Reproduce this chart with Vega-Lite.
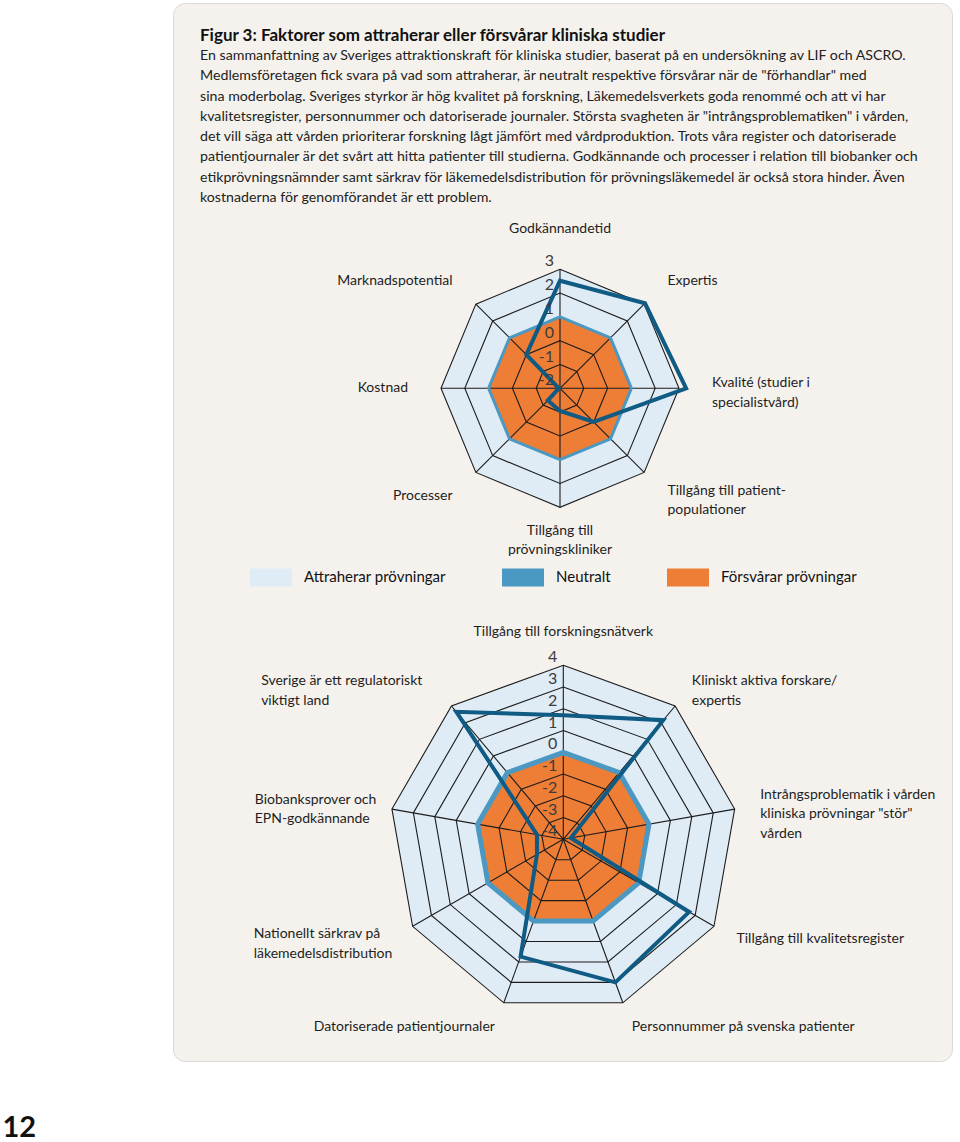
{
  "$schema": "https://vega.github.io/schema/vega-lite/v6.json",
  "width": 779,
  "height": 1058,
  "autosize": {"type": "none"},
  "padding": {"left": 173, "top": 3, "right": 8, "bottom": 81},
  "background": "#ffffff",
  "title": {
    "text": "Figur 3: Faktorer som attraherar eller försvårar kliniska studier",
    "subtitle": [
      "En sammanfattning av Sveriges attraktionskraft för kliniska studier, baserat på en undersökning av LIF och ASCRO.",
      "Medlemsföretagen fick svara på vad som attraherar, är neutralt respektive försvårar när de \"förhandlar\" med",
      "sina moderbolag. Sveriges styrkor är hög kvalitet på forskning, Läkemedelsverkets goda renommé och att vi har",
      "kvalitetsregister, personnummer och datoriserade journaler. Största svagheten är \"intrångsproblematiken\" i vården,",
      "det vill säga att vården prioriterar forskning lågt jämfört med vårdproduktion. Trots våra register och datoriserade",
      "patientjournaler är det svårt att hitta patienter till studierna. Godkännande och processer i relation till biobanker och",
      "etikprövningsnämnder samt särkrav för läkemedelsdistribution för prövningsläkemedel är också stora hinder. Även",
      "kostnaderna för genomförandet är ett problem."
    ],
    "anchor": "start",
    "frame": "group",
    "orient": "top",
    "offset": -203,
    "dx": 27,
    "font": "Lato",
    "fontSize": 17,
    "fontWeight": "bold",
    "color": "#111111",
    "subtitleFont": "Lato",
    "subtitleFontSize": 14.2,
    "subtitleColor": "#222222",
    "subtitleLineHeight": 20.25,
    "subtitlePadding": 4
  },
  "datasets": {
    "axes": [
      {"chart": 1, "k": 0, "label": "Godkännandetid", "v": 2.52},
      {"chart": 1, "k": 1, "label": "Expertis", "v": 3.05},
      {"chart": 1, "k": 2, "label": "Kvalité (studier i\nspecialistvård)", "v": 3.3},
      {"chart": 1, "k": 3, "label": "Tillgång till patient-\npopulationer", "v": 0},
      {"chart": 1, "k": 4, "label": "Tillgång till\nprövningskliniker", "v": -1.05},
      {"chart": 1, "k": 5, "label": "Processer", "v": -1.28},
      {"chart": 1, "k": 6, "label": "Kostnad", "v": -1.95},
      {"chart": 1, "k": 7, "label": "Marknadspotential", "v": 0},
      {"chart": 2, "k": 0, "label": "Tillgång till forskningsnätverk", "v": 1.7},
      {"chart": 2, "k": 1, "label": "Kliniskt aktiva forskare/\nexpertis", "v": 3.15},
      {"chart": 2, "k": 2, "label": "Intrångsproblematik i vården\nkliniska prövningar \"stör\"\nvården", "v": -3.65},
      {"chart": 2, "k": 3, "label": "Tillgång till kvalitetsregister", "v": 2.68},
      {"chart": 2, "k": 4, "label": "Personnummer på svenska patienter", "v": 3.0},
      {"chart": 2, "k": 5, "label": "Datoriserade patientjournaler", "v": 1.74},
      {"chart": 2, "k": 6, "label": "Nationellt särkrav på\nläkemedelsdistribution", "v": -2.6},
      {"chart": 2, "k": 7, "label": "Biobanksprover och\nEPN-godkännande", "v": -2.77},
      {"chart": 2, "k": 8, "label": "Sverige är ett regulatoriskt\nviktigt land", "v": 3.65}
    ],
    "zones": [
      {"chart": 1, "v": 3, "zone": "Attraherar prövningar", "ks": [0, 1, 2, 3, 4, 5, 6, 7]},
      {"chart": 1, "v": 1, "zone": "Försvårar prövningar", "ks": [0, 1, 2, 3, 4, 5, 6, 7]},
      {"chart": 2, "v": 4, "zone": "Attraherar prövningar", "ks": [0, 1, 2, 3, 4, 5, 6, 7, 8]},
      {"chart": 2, "v": 0, "zone": "Försvårar prövningar", "ks": [0, 1, 2, 3, 4, 5, 6, 7, 8]}
    ],
    "rings": [
      {"chart": 1, "v": -1, "ks": [0, 1, 2, 3, 4, 5, 6, 7]},
      {"chart": 1, "v": 0, "ks": [0, 1, 2, 3, 4, 5, 6, 7]},
      {"chart": 1, "v": 2, "ks": [0, 1, 2, 3, 4, 5, 6, 7]},
      {"chart": 1, "v": 3, "ks": [0, 1, 2, 3, 4, 5, 6, 7]},
      {"chart": 2, "v": -3, "ks": [0, 1, 2, 3, 4, 5, 6, 7, 8]},
      {"chart": 2, "v": -2, "ks": [0, 1, 2, 3, 4, 5, 6, 7, 8]},
      {"chart": 2, "v": -1, "ks": [0, 1, 2, 3, 4, 5, 6, 7, 8]},
      {"chart": 2, "v": 1, "ks": [0, 1, 2, 3, 4, 5, 6, 7, 8]},
      {"chart": 2, "v": 2, "ks": [0, 1, 2, 3, 4, 5, 6, 7, 8]},
      {"chart": 2, "v": 3, "ks": [0, 1, 2, 3, 4, 5, 6, 7, 8]},
      {"chart": 2, "v": 4, "ks": [0, 1, 2, 3, 4, 5, 6, 7, 8]}
    ],
    "levels": [
      {"chart": 1, "v": 3, "t": "3"},
      {"chart": 1, "v": 2, "t": "2"},
      {"chart": 1, "v": 1, "t": "1"},
      {"chart": 1, "v": 0, "t": "0"},
      {"chart": 1, "v": -1, "t": "-1"},
      {"chart": 1, "v": -2, "t": "-2"},
      {"chart": 2, "v": 4, "t": "4"},
      {"chart": 2, "v": 3, "t": "3"},
      {"chart": 2, "v": 2, "t": "2"},
      {"chart": 2, "v": 1, "t": "1"},
      {"chart": 2, "v": 0, "t": "0"},
      {"chart": 2, "v": -1, "t": "-1"},
      {"chart": 2, "v": -2, "t": "-2"},
      {"chart": 2, "v": -3, "t": "-3"},
      {"chart": 2, "v": -4, "t": "-4"}
    ]
  },
  "encoding": {
    "x": {
      "field": "px", "type": "quantitative",
      "scale": {"domain": [173, 952], "nice": false, "zero": false},
      "axis": {"title": "12", "domain": false, "ticks": false, "labels": false, "grid": false,
               "titleFont": "Lato", "titleFontSize": 29, "titleFontWeight": "bold", "titleColor": "#111111",
               "titleX": -171, "titleY": 75, "titleAlign": "left", "titleBaseline": "alphabetic", "titleAnchor": "start"}
    },
    "y": {
      "field": "py", "type": "quantitative",
      "scale": {"domain": [3, 1061], "reverse": true, "nice": false, "zero": false},
      "axis": null
    }
  },
  "layer": [
    {
      "data": {"name": "zones"},
      "transform": [
        {"filter": "datum.zone === 'Attraherar prövningar'"},
        {"flatten": ["ks"], "as": ["k"]},
        {"calculate": "2*PI*datum.k/(datum.chart === 1 ? 8 : 9)", "as": "ang"},
        {"calculate": "datum.chart === 1 ? 560 : 563.3", "as": "cx0"},
        {"calculate": "datum.chart === 1 ? 388.3 : 839.3", "as": "cy0"},
        {"calculate": "datum.chart === 1 ? 119*(datum.v+2)/5 : 174*(datum.v+4)/8", "as": "rp"},
        {"calculate": "datum.cx0 + datum.rp*sin(datum.ang)", "as": "px"},
        {"calculate": "datum.cy0 - datum.rp*cos(datum.ang)", "as": "py"}
      ],
      "mark": {"type": "line", "interpolate": "linear-closed", "stroke": "transparent", "strokeWidth": 0},
      "encoding": {
        "order": {"field": "k", "type": "quantitative"},
        "detail": {"field": "chart", "type": "nominal"},
        "fill": {
          "field": "zone", "type": "nominal",
          "scale": {"domain": ["Attraherar prövningar", "Neutralt", "Försvårar prövningar"], "range": ["#dfebf5", "#4b99c2", "#ee7d36"]},
          "legend": {"orient": "none", "legendX": 77, "legendY": 553, "direction": "horizontal", "title": null,
                     "symbolType": "M-1,-0.43H1V0.43H-1Z", "symbolSize": 1764, "symbolStrokeWidth": 0, "symbolOpacity": 1,
                     "labelFont": "Lato", "labelFontSize": 15, "labelColor": "#111111", "labelOffset": 12,
                     "columnPadding": 56, "padding": 0, "labelLimit": 300}
        }
      }
    },
    {
      "data": {"name": "zones"},
      "transform": [
        {"filter": "datum.zone === 'Försvårar prövningar'"},
        {"flatten": ["ks"], "as": ["k"]},
        {"calculate": "2*PI*datum.k/(datum.chart === 1 ? 8 : 9)", "as": "ang"},
        {"calculate": "datum.chart === 1 ? 560 : 563.3", "as": "cx0"},
        {"calculate": "datum.chart === 1 ? 388.3 : 839.3", "as": "cy0"},
        {"calculate": "datum.chart === 1 ? 119*(datum.v+2)/5 : 174*(datum.v+4)/8", "as": "rp"},
        {"calculate": "datum.cx0 + datum.rp*sin(datum.ang)", "as": "px"},
        {"calculate": "datum.cy0 - datum.rp*cos(datum.ang)", "as": "py"}
      ],
      "mark": {"type": "line", "interpolate": "linear-closed", "stroke": "transparent", "strokeWidth": 0, "fill": "#ee7d36"},
      "encoding": {
        "order": {"field": "k", "type": "quantitative"},
        "detail": {"field": "chart", "type": "nominal"}
      }
    },
    {
      "data": {"name": "rings"},
      "transform": [
        {"flatten": ["ks"], "as": ["k"]},
        {"calculate": "2*PI*datum.k/(datum.chart === 1 ? 8 : 9)", "as": "ang"},
        {"calculate": "datum.chart === 1 ? 560 : 563.3", "as": "cx0"},
        {"calculate": "datum.chart === 1 ? 388.3 : 839.3", "as": "cy0"},
        {"calculate": "datum.chart === 1 ? 119*(datum.v+2)/5 : 174*(datum.v+4)/8", "as": "rp"},
        {"calculate": "datum.cx0 + datum.rp*sin(datum.ang)", "as": "px"},
        {"calculate": "datum.cy0 - datum.rp*cos(datum.ang)", "as": "py"}
      ],
      "mark": {"type": "line", "interpolate": "linear-closed", "stroke": "#1c1c1c", "strokeWidth": 1.1},
      "encoding": {
        "order": {"field": "k", "type": "quantitative"},
        "detail": [{"field": "chart", "type": "nominal"}, {"field": "v", "type": "nominal"}]
      }
    },
    {
      "data": {"name": "axes"},
      "transform": [
        {"calculate": "2*PI*datum.k/(datum.chart === 1 ? 8 : 9)", "as": "ang"},
        {"calculate": "datum.chart === 1 ? 560 : 563.3", "as": "cx0"},
        {"calculate": "datum.chart === 1 ? 388.3 : 839.3", "as": "cy0"},
        {"calculate": "datum.chart === 1 ? 119 : 174", "as": "rp"},
        {"calculate": "datum.cx0 + datum.rp*sin(datum.ang)", "as": "px"},
        {"calculate": "datum.cy0 - datum.rp*cos(datum.ang)", "as": "py"}
      ],
      "mark": {"type": "rule", "stroke": "#1c1c1c", "strokeWidth": 1.1},
      "encoding": {
        "x2": {"field": "cx0"},
        "y2": {"field": "cy0"}
      }
    },
    {
      "data": {"name": "zones"},
      "transform": [
        {"filter": "datum.zone === 'Försvårar prövningar'"},
        {"flatten": ["ks"], "as": ["k"]},
        {"calculate": "2*PI*datum.k/(datum.chart === 1 ? 8 : 9)", "as": "ang"},
        {"calculate": "datum.chart === 1 ? 560 : 563.3", "as": "cx0"},
        {"calculate": "datum.chart === 1 ? 388.3 : 839.3", "as": "cy0"},
        {"calculate": "datum.chart === 1 ? 119*(datum.v+2)/5 : 174*(datum.v+4)/8", "as": "rp"},
        {"calculate": "datum.cx0 + datum.rp*sin(datum.ang)", "as": "px"},
        {"calculate": "datum.cy0 - datum.rp*cos(datum.ang)", "as": "py"}
      ],
      "mark": {"type": "line", "interpolate": "linear-closed", "stroke": "#4b99c2"},
      "encoding": {
        "order": {"field": "k", "type": "quantitative"},
        "detail": {"field": "chart", "type": "nominal"},
        "strokeWidth": {"condition": {"test": "datum.chart === 1", "value": 3}, "value": 5}
      }
    },
    {
      "data": {"name": "axes"},
      "transform": [
        {"calculate": "2*PI*datum.k/(datum.chart === 1 ? 8 : 9)", "as": "ang"},
        {"calculate": "datum.chart === 1 ? 560 : 563.3", "as": "cx0"},
        {"calculate": "datum.chart === 1 ? 388.3 : 839.3", "as": "cy0"},
        {"calculate": "datum.chart === 1 ? 119*(datum.v+2)/5 : 174*(datum.v+4)/8", "as": "rp"},
        {"calculate": "datum.cx0 + datum.rp*sin(datum.ang)", "as": "px"},
        {"calculate": "datum.cy0 - datum.rp*cos(datum.ang)", "as": "py"}
      ],
      "mark": {"type": "line", "interpolate": "linear-closed", "stroke": "#0f5b84", "strokeWidth": 4, "strokeJoin": "miter"},
      "encoding": {
        "order": {"field": "k", "type": "quantitative"},
        "detail": {"field": "chart", "type": "nominal"}
      }
    },
    {
      "data": {"name": "levels"},
      "transform": [
        {"calculate": "datum.chart === 1 ? 560 : 563.3", "as": "px"},
        {"calculate": "datum.chart === 1 ? 388.3 - 119*(datum.v+2)/5 : 839.3 - 174*(datum.v+4)/8", "as": "py"}
      ],
      "mark": {"type": "text", "align": "right", "baseline": "middle", "dx": -6, "dy": -8, "font": "Lato", "fontSize": 16, "color": "#3c3c3c"},
      "encoding": {"text": {"field": "t", "type": "nominal"}}
    },
    {
      "data": {"name": "axes"},
      "transform": [
        {"calculate": "2*PI*datum.k/(datum.chart === 1 ? 8 : 9)", "as": "ang"},
        {"calculate": "sin(datum.ang)", "as": "sx"},
        {"filter": "datum.sx > 0.05"},
        {"calculate": "length(split(datum.label, '\\n'))", "as": "nl"},
        {"calculate": "datum.chart === 1 ? 152 : 200", "as": "rp"},
        {"calculate": "(datum.chart === 1 ? 560 : 563.3) + datum.rp*sin(datum.ang)", "as": "px"},
        {"calculate": "(datum.chart === 1 ? 388.3 : 839.3) - datum.rp*cos(datum.ang) - (datum.nl - 1)*19.5/4", "as": "py"}
      ],
      "mark": {"type": "text", "align": "left", "baseline": "middle", "font": "Lato", "fontSize": 14, "color": "#1e1e1e", "lineBreak": "\n", "lineHeight": 19.5},
      "encoding": {"text": {"field": "label", "type": "nominal"}}
    },
    {
      "data": {"name": "axes"},
      "transform": [
        {"calculate": "2*PI*datum.k/(datum.chart === 1 ? 8 : 9)", "as": "ang"},
        {"calculate": "sin(datum.ang)", "as": "sx"},
        {"filter": "abs(datum.sx) <= 0.05 && cos(datum.ang) > 0"},
        {"calculate": "datum.chart === 1 ? 152 : 200", "as": "rp"},
        {"calculate": "(datum.chart === 1 ? 560 : 563.3) + datum.rp*sin(datum.ang)", "as": "px"},
        {"calculate": "(datum.chart === 1 ? 388.3 : 839.3) - datum.rp*cos(datum.ang)", "as": "py"}
      ],
      "mark": {"type": "text", "align": "center", "baseline": "bottom", "font": "Lato", "fontSize": 14, "color": "#1e1e1e", "lineBreak": "\n", "lineHeight": 19.5},
      "encoding": {"text": {"field": "label", "type": "nominal"}}
    },
    {
      "data": {"name": "axes"},
      "transform": [
        {"calculate": "2*PI*datum.k/(datum.chart === 1 ? 8 : 9)", "as": "ang"},
        {"calculate": "sin(datum.ang)", "as": "sx"},
        {"filter": "abs(datum.sx) <= 0.05 && cos(datum.ang) < 0"},
        {"calculate": "length(split(datum.label, '\\n'))", "as": "nl"},
        {"calculate": "datum.chart === 1 ? 152 : 200", "as": "rp"},
        {"calculate": "(datum.chart === 1 ? 560 : 563.3) + datum.rp*sin(datum.ang)", "as": "px"},
        {"calculate": "(datum.chart === 1 ? 388.3 : 839.3) - datum.rp*cos(datum.ang) - (datum.nl - 1)*19.5/2", "as": "py"}
      ],
      "mark": {"type": "text", "align": "center", "baseline": "middle", "font": "Lato", "fontSize": 14, "color": "#1e1e1e", "lineBreak": "\n", "lineHeight": 19.5},
      "encoding": {"text": {"field": "label", "type": "nominal"}}
    },
    {
      "data": {"name": "axes"},
      "transform": [
        {"calculate": "2*PI*datum.k/(datum.chart === 1 ? 8 : 9)", "as": "ang"},
        {"calculate": "sin(datum.ang)", "as": "sx"},
        {"calculate": "length(split(datum.label, '\\n'))", "as": "nl"},
        {"filter": "datum.sx < -0.05 && datum.nl === 1"},
        {"calculate": "datum.chart === 1 ? 152 : 200", "as": "rp"},
        {"calculate": "(datum.chart === 1 ? 560 : 563.3) + datum.rp*sin(datum.ang)", "as": "px"},
        {"calculate": "(datum.chart === 1 ? 388.3 : 839.3) - datum.rp*cos(datum.ang)", "as": "py"}
      ],
      "mark": {"type": "text", "align": "right", "baseline": "middle", "font": "Lato", "fontSize": 14, "color": "#1e1e1e", "lineBreak": "\n", "lineHeight": 19.5},
      "encoding": {"text": {"field": "label", "type": "nominal"}}
    },
    {
      "data": {"name": "axes"},
      "transform": [
        {"calculate": "2*PI*datum.k/(datum.chart === 1 ? 8 : 9)", "as": "ang"},
        {"calculate": "sin(datum.ang)", "as": "sx"},
        {"calculate": "length(split(datum.label, '\\n'))", "as": "nl"},
        {"filter": "datum.sx < -0.05 && datum.nl > 1"},
        {"calculate": "max(length(split(datum.label, '\\n')[0]), length(split(datum.label, '\\n')[1]))", "as": "ml"},
        {"calculate": "datum.chart === 1 ? 152 : 200", "as": "rp"},
        {"calculate": "(datum.chart === 1 ? 560 : 563.3) + datum.rp*sin(datum.ang) - datum.ml*6.2", "as": "px"},
        {"calculate": "(datum.chart === 1 ? 388.3 : 839.3) - datum.rp*cos(datum.ang) - (datum.nl - 1)*19.5/4", "as": "py"}
      ],
      "mark": {"type": "text", "align": "left", "baseline": "middle", "font": "Lato", "fontSize": 14, "color": "#1e1e1e", "lineBreak": "\n", "lineHeight": 19.5},
      "encoding": {"text": {"field": "label", "type": "nominal"}}
    }
  ],
  "config": {
    "view": {"fill": "#f5f2ed", "cornerRadius": 12, "stroke": "#dcd9d3", "strokeWidth": 1},
    "font": "Lato"
  }
}
